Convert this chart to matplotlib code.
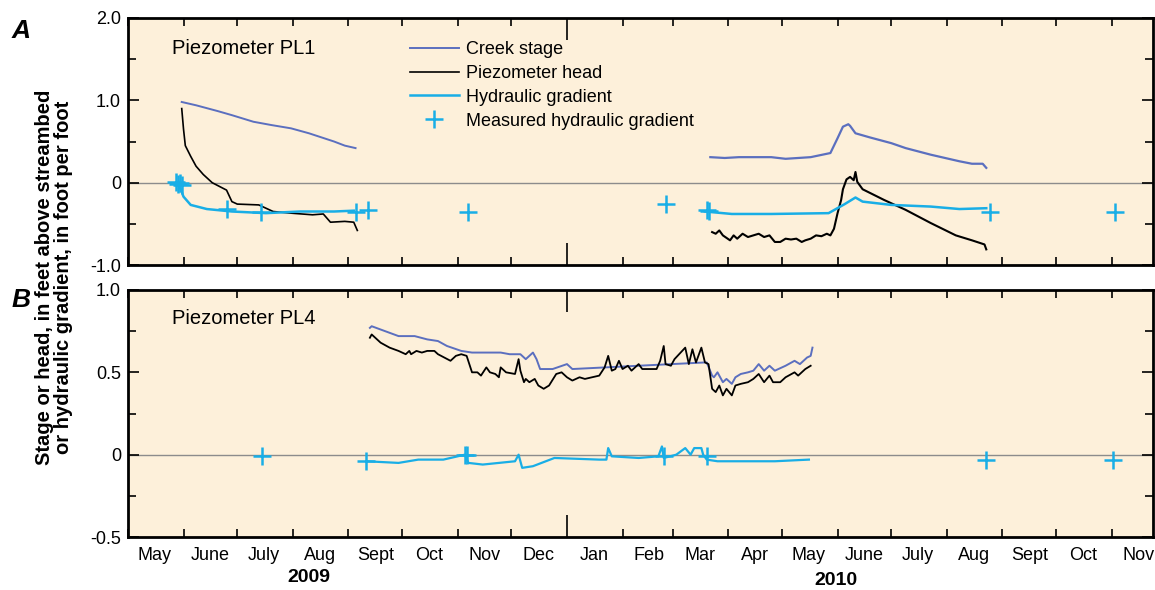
import numpy as np
import pandas as pd
import matplotlib
matplotlib.use("Agg")
import matplotlib.pyplot as plt
import matplotlib.transforms as mtransforms
from matplotlib import font_manager

# narrow face if one is installed, otherwise Liberation Sans
names = {f.name for f in font_manager.fontManager.ttflist}
fam = []
if 'Liberation Sans Narrow' in names:
    fam.append('Liberation Sans Narrow')
fam += ['Liberation Sans', 'DejaVu Sans']
plt.rcParams['font.family'] = fam

# ---- panel A : piezometer PL1 ----
a_creek_dates_09 = ['2009-05-31', '2009-06-08', '2009-06-20', '2009-06-28', '2009-07-10', '2009-07-20',
                    '2009-07-31', '2009-08-10', '2009-08-24', '2009-08-30', '2009-09-05']
a_creek_vals_09 = [0.98, 0.94, 0.87, 0.82, 0.74, 0.70, 0.66, 0.60, 0.50, 0.45, 0.42]

a_head_dates_09 = ['2009-05-31', '2009-06-01', '2009-06-02', '2009-06-05', '2009-06-08', '2009-06-12',
                   '2009-06-17', '2009-06-25', '2009-06-28', '2009-07-01', '2009-07-13', '2009-07-21',
                   '2009-07-31', '2009-08-12', '2009-08-18', '2009-08-22', '2009-08-30', '2009-09-04',
                   '2009-09-06']
a_head_vals_09 = [0.90, 0.65, 0.45, 0.32, 0.20, 0.10, 0.00, -0.09, -0.23, -0.26, -0.27, -0.35,
                  -0.37, -0.39, -0.38, -0.48, -0.47, -0.48, -0.58]

a_grad_dates_09 = ['2009-05-29', '2009-06-01', '2009-06-05', '2009-06-14', '2009-06-28', '2009-07-17',
                   '2009-08-05', '2009-08-24', '2009-09-04']
a_grad_vals_09 = [0.0, -0.17, -0.27, -0.32, -0.35, -0.37, -0.35, -0.35, -0.34]

a_creek_dates_10 = ['2010-03-22', '2010-03-30', '2010-04-07', '2010-04-25', '2010-05-03', '2010-05-17',
                    '2010-05-28', '2010-06-01', '2010-06-04', '2010-06-07', '2010-06-08', '2010-06-11',
                    '2010-06-19', '2010-07-01', '2010-07-09', '2010-07-23', '2010-08-08', '2010-08-15',
                    '2010-08-21', '2010-08-23']
a_creek_vals_10 = [0.31, 0.30, 0.31, 0.31, 0.29, 0.31, 0.36, 0.54, 0.68, 0.71, 0.69, 0.60,
                   0.55, 0.48, 0.42, 0.34, 0.26, 0.23, 0.23, 0.18]

a_head_dates_10 = ['2010-03-23', '2010-03-25', '2010-03-27', '2010-03-29', '2010-04-02', '2010-04-04',
                   '2010-04-06', '2010-04-09', '2010-04-12', '2010-04-15', '2010-04-18', '2010-04-21',
                   '2010-04-24', '2010-04-27', '2010-04-30', '2010-05-03', '2010-05-06', '2010-05-09',
                   '2010-05-12', '2010-05-14', '2010-05-17', '2010-05-20', '2010-05-23', '2010-05-26',
                   '2010-05-28', '2010-05-30', '2010-06-01', '2010-06-03', '2010-06-04', '2010-06-06',
                   '2010-06-08', '2010-06-10', '2010-06-11', '2010-06-12', '2010-06-15', '2010-06-27',
                   '2010-07-09', '2010-07-23', '2010-08-06', '2010-08-15', '2010-08-22', '2010-08-23']
a_head_vals_10 = [-0.60, -0.62, -0.58, -0.64, -0.70, -0.64, -0.68, -0.62, -0.66, -0.64, -0.62, -0.66,
                  -0.64, -0.72, -0.72, -0.68, -0.69, -0.68, -0.72, -0.70, -0.68, -0.64, -0.65, -0.62,
                  -0.64, -0.56, -0.37, -0.21, -0.08, 0.04, 0.07, 0.03, 0.13, 0.01, -0.08, -0.21,
                  -0.33, -0.49, -0.64, -0.70, -0.75, -0.81]

a_grad_dates_10 = ['2010-03-19', '2010-04-03', '2010-04-25', '2010-05-27', '2010-06-05', '2010-06-11',
                   '2010-06-15', '2010-07-01', '2010-07-23', '2010-08-08', '2010-08-23']
a_grad_vals_10 = [-0.35, -0.38, -0.38, -0.37, -0.26, -0.18, -0.23, -0.27, -0.29, -0.32, -0.31]

a_meas_dates = ['2009-05-28', '2009-05-29', '2009-05-30', '2009-05-31', '2009-06-25', '2009-07-14',
                '2009-09-05', '2009-09-12', '2009-11-07', '2010-02-25', '2010-03-20', '2010-03-21',
                '2010-08-25', '2010-11-03']
a_meas_vals = [0.01, -0.01, 0.0, -0.03, -0.32, -0.36, -0.35, -0.33, -0.36, -0.26, -0.33, -0.34,
               -0.35, -0.36]

# ---- panel B : piezometer PL4 ----
b_creek_dates = ['2009-09-13', '2009-09-14', '2009-09-19', '2009-09-29', '2009-10-08', '2009-10-15',
                 '2009-10-21', '2009-10-26', '2009-11-03', '2009-11-09', '2009-11-18', '2009-11-25',
                 '2009-11-30', '2009-12-06', '2009-12-09', '2009-12-13', '2009-12-15', '2009-12-17',
                 '2009-12-22', '2009-12-24', '2010-01-01', '2010-01-04', '2010-03-19', '2010-03-20',
                 '2010-03-23', '2010-03-24', '2010-03-26', '2010-03-29', '2010-03-31', '2010-04-03',
                 '2010-04-05', '2010-04-08', '2010-04-12', '2010-04-15', '2010-04-18', '2010-04-21',
                 '2010-04-24', '2010-04-27', '2010-05-03', '2010-05-08', '2010-05-11', '2010-05-15',
                 '2010-05-17', '2010-05-18']
b_creek_vals = [0.77, 0.78, 0.76, 0.72, 0.72, 0.70, 0.69, 0.66, 0.63, 0.62, 0.62, 0.62,
                0.61, 0.61, 0.58, 0.62, 0.58, 0.52, 0.52, 0.52, 0.55, 0.52, 0.56, 0.56,
                0.48, 0.47, 0.50, 0.44, 0.46, 0.43, 0.47, 0.49, 0.50, 0.51, 0.55, 0.51,
                0.54, 0.51, 0.54, 0.57, 0.55, 0.59, 0.60, 0.65]

b_head_dates = ['2009-09-13', '2009-09-14', '2009-09-19', '2009-09-24', '2009-09-29', '2009-10-03',
                '2009-10-05', '2009-10-06', '2009-10-09', '2009-10-12', '2009-10-15', '2009-10-19',
                '2009-10-21', '2009-10-28', '2009-10-31', '2009-11-03', '2009-11-06', '2009-11-09',
                '2009-11-12', '2009-11-14', '2009-11-17', '2009-11-19', '2009-11-22', '2009-11-24',
                '2009-11-25', '2009-11-28', '2009-12-03', '2009-12-05', '2009-12-06', '2009-12-08',
                '2009-12-09', '2009-12-11', '2009-12-14', '2009-12-16', '2009-12-19', '2009-12-22',
                '2009-12-26', '2009-12-29', '2010-01-01', '2010-01-04', '2010-01-08', '2010-01-11',
                '2010-01-15', '2010-01-19', '2010-01-22', '2010-01-24', '2010-01-26', '2010-01-28',
                '2010-01-30', '2010-02-01', '2010-02-04', '2010-02-06', '2010-02-10', '2010-02-12',
                '2010-02-20', '2010-02-22', '2010-02-24', '2010-02-25', '2010-02-28', '2010-03-02',
                '2010-03-08', '2010-03-10', '2010-03-12', '2010-03-14', '2010-03-17', '2010-03-19',
                '2010-03-21', '2010-03-23', '2010-03-25', '2010-03-27', '2010-03-29', '2010-03-31',
                '2010-04-03', '2010-04-05', '2010-04-08', '2010-04-12', '2010-04-15', '2010-04-18',
                '2010-04-21', '2010-04-24', '2010-04-26', '2010-04-30', '2010-05-03', '2010-05-08',
                '2010-05-10', '2010-05-14', '2010-05-17']
b_head_vals = [0.71, 0.73, 0.68, 0.65, 0.63, 0.61, 0.63, 0.61, 0.63, 0.62, 0.63, 0.63,
               0.61, 0.57, 0.60, 0.61, 0.60, 0.50, 0.50, 0.48, 0.53, 0.50, 0.49, 0.47,
               0.53, 0.50, 0.49, 0.58, 0.51, 0.44, 0.46, 0.44, 0.46, 0.42, 0.40, 0.42,
               0.49, 0.50, 0.47, 0.45, 0.47, 0.46, 0.47, 0.48, 0.53, 0.60, 0.51, 0.52,
               0.57, 0.52, 0.54, 0.51, 0.55, 0.52, 0.52, 0.57, 0.66, 0.55, 0.54, 0.58,
               0.65, 0.55, 0.64, 0.56, 0.65, 0.56, 0.55, 0.40, 0.38, 0.42, 0.36, 0.40,
               0.36, 0.42, 0.43, 0.44, 0.46, 0.49, 0.44, 0.48, 0.44, 0.44, 0.47, 0.50,
               0.48, 0.52, 0.54]

b_grad_dates = ['2009-09-11', '2009-09-29', '2009-10-10', '2009-10-24', '2009-11-05', '2009-11-07',
                '2009-11-15', '2009-12-03', '2009-12-05', '2009-12-07', '2009-12-13', '2009-12-25',
                '2010-01-19', '2010-01-23', '2010-01-24', '2010-01-26', '2010-02-10', '2010-02-21',
                '2010-02-23', '2010-02-24', '2010-03-03', '2010-03-08', '2010-03-11', '2010-03-13',
                '2010-03-17', '2010-03-18', '2010-03-20', '2010-03-26', '2010-04-27', '2010-05-16']
b_grad_vals = [-0.04, -0.05, -0.03, -0.03, 0.0, -0.05, -0.06, -0.04, 0.0, -0.08, -0.07, -0.02,
               -0.03, -0.03, 0.04, -0.01, -0.02, -0.01, 0.05, -0.02, 0.0, 0.04, 0.0, 0.04,
               0.04, 0.0, -0.03, -0.04, -0.04, -0.03]

b_meas_dates = ['2009-07-15', '2009-09-11', '2009-11-05', '2009-11-06', '2010-02-24', '2010-03-20',
                '2010-08-23', '2010-11-02']
b_meas_vals = [-0.01, -0.04, 0.0, 0.0, -0.01, -0.01, -0.03, -0.03]

month_labels = ['May', 'June', 'July', 'Aug', 'Sept', 'Oct', 'Nov', 'Dec', 'Jan', 'Feb', 'Mar',
                'Apr', 'May', 'June', 'July', 'Aug', 'Sept', 'Oct', 'Nov']

creek_color = '#5b6fbf'
grad_color = '#19aee6'
bg = '#fdf0da'

fig = plt.figure(figsize=(11.55, 5.9), dpi=100)
ax_a = fig.add_axes([0.1108, 0.5508, 0.8874, 0.4187])
ax_b = fig.add_axes([0.1108, 0.0898, 0.8874, 0.4187])

d = pd.to_datetime
xmin, xmax = d('2009-05-01'), d('2010-11-24')

for ax in (ax_a, ax_b):
    ax.set_facecolor(bg)
    ax.axhline(0, color='#8c8c8c', lw=1.0, zorder=1)

# panel A lines
ax_a.plot(d(a_creek_dates_09), a_creek_vals_09, color=creek_color, lw=1.4, label='Creek stage')
ax_a.plot(d(a_creek_dates_10), a_creek_vals_10, color=creek_color, lw=1.6)
ax_a.plot(d(a_head_dates_09), a_head_vals_09, color='black', lw=1.2, label='Piezometer head')
ax_a.plot(d(a_head_dates_10), a_head_vals_10, color='black', lw=1.5)
ax_a.plot(d(a_grad_dates_09), a_grad_vals_09, color=grad_color, lw=1.8, label='Hydraulic gradient')
ax_a.plot(d(a_grad_dates_10), a_grad_vals_10, color=grad_color, lw=1.8)
ax_a.plot(d(a_meas_dates), a_meas_vals, ls='none', marker='+', ms=13, mew=1.8, color=grad_color,
          label='Measured hydraulic gradient')

# panel B lines
ax_b.plot(d(b_creek_dates), b_creek_vals, color=creek_color, lw=1.4)
ax_b.plot(d(b_head_dates), b_head_vals, color='black', lw=1.3)
ax_b.plot(d(b_grad_dates), b_grad_vals, color=grad_color, lw=1.6)
ax_b.plot(d(b_meas_dates), b_meas_vals, ls='none', marker='+', ms=13, mew=1.8, color=grad_color)

ax_a.set_ylim(-1.0, 2.0)
ax_a.set_yticks([-1.0, 0, 1.0, 2.0])
ax_a.set_yticklabels(['-1.0', '0', '1.0', '2.0'])
ax_a.set_yticks([-0.5, 0.5, 1.5], minor=True)
ax_b.set_ylim(-0.5, 1.0)
ax_b.set_yticks([-0.5, 0, 0.5, 1.0])
ax_b.set_yticklabels(['-0.5', '0', '0.5', '1.0'])
ax_b.set_yticks([-0.25, 0.25, 0.75], minor=True)

month_starts = pd.date_range('2009-05-01', '2010-11-01', freq='MS')
month_mids = month_starts + pd.Timedelta(days=15)

for ax in (ax_a, ax_b):
    ax.set_xlim(xmin, xmax)
    ax.set_xticks(month_starts)
    ax.set_xticklabels([])
    ax.set_xticks(month_mids, minor=True)
    ax.tick_params(axis='x', which='major', direction='in', top=True, bottom=True, length=6, width=1.2)
    ax.tick_params(axis='y', which='major', direction='in', left=True, right=True, length=8, width=1.2,
                   labelsize=13, pad=5)
    ax.tick_params(axis='y', which='minor', direction='in', left=True, right=True, length=6, width=1.2)
    ax.tick_params(axis='x', which='minor', length=0, labelsize=13, pad=7)
    for s in ax.spines.values():
        s.set_linewidth(2.0)
    # longer tick at the start of the year
    jan = list(month_starts).index(d('2010-01-01'))
    t = ax.xaxis.get_major_ticks()[jan]
    t.tick1line.set_markersize(16)
    t.tick2line.set_markersize(16)

ax_a.set_xticklabels([], minor=True)
ax_b.set_xticklabels(month_labels, minor=True)

ax_a.text(0.043, 0.875, 'Piezometer PL1', transform=ax_a.transAxes, fontsize=14.5, va='center')
ax_b.text(0.043, 0.885, 'Piezometer PL4', transform=ax_b.transAxes, fontsize=14.5, va='center')

leg = ax_a.legend(loc='upper left', bbox_to_anchor=(0.275, 0.907), frameon=False, fontsize=13,
                  handlelength=2.7, handletextpad=0.4, labelspacing=0.38, borderaxespad=0,
                  borderpad=0)

trans = mtransforms.blended_transform_factory(ax_b.transData, ax_b.transAxes)
ax_b.text(d('2009-08-10'), -0.165, '2009', transform=trans, fontsize=14, fontweight='bold',
          ha='center', va='center')
ax_b.text(d('2010-05-31'), -0.175, '2010', transform=trans, fontsize=14, fontweight='bold',
          ha='center', va='center')

fig.text(0.047, 0.53, 'Stage or head, in feet above streambed\nor hydraulic gradient, in foot per foot',
         rotation=90, ha='center', va='center', fontsize=14.5, fontweight='bold', linespacing=1.0)
fig.text(0.010, 0.948, 'A', fontsize=19, fontweight='bold', style='italic', va='center')
fig.text(0.010, 0.492, 'B', fontsize=19, fontweight='bold', style='italic', va='center')

fig.savefig('out.png', dpi=100)
